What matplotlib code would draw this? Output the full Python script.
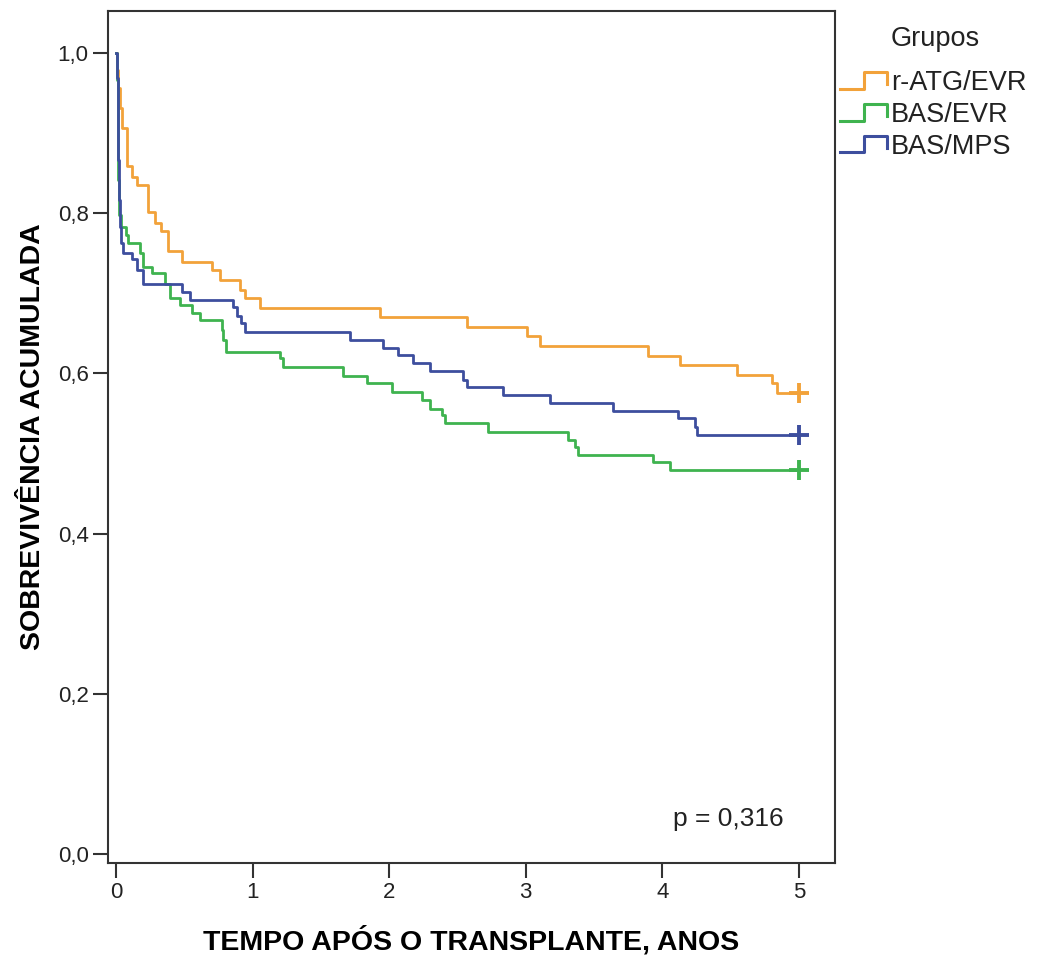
import numpy as np
import matplotlib
matplotlib.use('Agg')
import matplotlib.pyplot as plt
from matplotlib.lines import Line2D
from matplotlib.legend_handler import HandlerBase

plt.rcParams['font.family'] = ['Liberation Sans', 'DejaVu Sans']

# Kaplan-Meier steps (time in years, survival after the event)
ratg_t = [0.007, 0.015, 0.026, 0.040, 0.077, 0.117, 0.154, 0.236, 0.286, 0.329, 0.383, 0.481,
          0.701, 0.761, 0.908, 0.944, 1.054, 1.933, 2.567, 3.007, 3.104, 3.897, 4.129, 4.544,
          4.800, 4.837]
ratg_s = [0.979, 0.956, 0.931, 0.906, 0.859, 0.845, 0.835, 0.801, 0.788, 0.777, 0.752, 0.739,
          0.729, 0.717, 0.704, 0.694, 0.681, 0.670, 0.658, 0.646, 0.634, 0.622, 0.610, 0.598,
          0.588, 0.575]

basevr_t = [0.007, 0.011, 0.015, 0.022, 0.039, 0.075, 0.090, 0.176, 0.200, 0.261, 0.359, 0.395,
            0.469, 0.554, 0.615, 0.774, 0.786, 0.805, 1.201, 1.225, 1.664, 1.835, 2.018, 2.238,
            2.299, 2.384, 2.408, 2.726, 3.311, 3.360, 3.384, 3.933, 4.056]
basevr_s = [0.966, 0.904, 0.841, 0.798, 0.783, 0.772, 0.762, 0.750, 0.733, 0.725, 0.712, 0.694,
            0.685, 0.675, 0.667, 0.654, 0.642, 0.627, 0.619, 0.608, 0.597, 0.588, 0.577, 0.567,
            0.556, 0.548, 0.538, 0.527, 0.517, 0.508, 0.498, 0.489, 0.479]

basmps_t = [0.007, 0.011, 0.015, 0.018, 0.026, 0.037, 0.053, 0.115, 0.152, 0.200, 0.481, 0.542,
            0.859, 0.884, 0.915, 0.944, 1.713, 1.957, 2.067, 2.176, 2.299, 2.542, 2.567, 2.835,
            3.177, 3.641, 4.116, 4.239, 4.251]
basmps_s = [0.969, 0.916, 0.866, 0.816, 0.783, 0.762, 0.750, 0.742, 0.729, 0.712, 0.702, 0.692,
            0.683, 0.671, 0.663, 0.652, 0.642, 0.631, 0.623, 0.613, 0.603, 0.592, 0.583, 0.573,
            0.563, 0.553, 0.544, 0.533, 0.523]

follow_up = 5.0
groups = ['r-ATG/EVR', 'BAS/EVR', 'BAS/MPS']
colors = ['#F2A23A', '#3FB34F', '#3D4E9E']
p_text = 'p = 0,316'

fig = plt.figure(figsize=(10.42, 9.56), dpi=100)
ax = fig.add_axes([108 / 1042, 1 - 863 / 956, (835 - 108) / 1042, (863 - 11) / 956])

series = [(ratg_t, ratg_s), (basevr_t, basevr_s), (basmps_t, basmps_s)]
handles = []
for (t, s), name, c in zip(series, groups, colors):
    tt = [0.0] + t + [follow_up]
    ss = [1.0] + s + [s[-1]]
    ln, = ax.step(tt, ss, where='post', color=c, lw=2.0, label=name)
    ax.plot(follow_up, s[-1], marker='+', ms=15, mew=2.8, color=c)
    handles.append(ln)

ax.set_xlim(-0.059, 5.264)
ax.set_ylim(-0.011, 1.052)
ax.set_xticks([0, 1, 2, 3, 4, 5])
ax.set_xticklabels(['0', '1', '2', '3', '4', '5'])
yt = [0.0, 0.2, 0.4, 0.6, 0.8, 1.0]
ax.set_yticks(yt)
ax.set_yticklabels([f'{v:.1f}'.replace('.', ',') for v in yt])
ax.tick_params(axis='both', labelsize=16, length=11, width=1.5, color='#333333',
               labelcolor='#222222', pad=3)
for sp in ax.spines.values():
    sp.set_color('#333333')
    sp.set_linewidth(1.5)

ax.set_xlabel('TEMPO APÓS O TRANSPLANTE, ANOS', fontsize=20.5, fontweight='bold', labelpad=16)
ax.set_ylabel('SOBREVIVÊNCIA ACUMULADA', fontsize=20.5, fontweight='bold', labelpad=8)
ax.text(0.853, 0.052, p_text, transform=ax.transAxes, ha='center', va='center',
        fontsize=19, color='#222222')


class StepHandler(HandlerBase):
    def create_artists(self, legend, orig_handle, xdescent, ydescent, width, height,
                       fontsize, trans):
        x0 = -xdescent
        lo = -ydescent + 0.0 * height
        hi = -ydescent + 1.0 * height
        xs = [x0, x0 + 0.5 * width, x0 + 0.5 * width, x0 + width, x0 + width]
        ys = [lo, lo, hi, hi, lo + 0.3 * (hi - lo)]
        line = Line2D(xs, ys, color=orig_handle.get_color(), lw=2.2, transform=trans)
        return [line]


fig.text(935 / 1042, 1 - 39 / 956, 'Grupos', ha='center', va='center',
         fontsize=19.5, color='#222222')
leg = fig.legend(handles=handles, labels=groups,
                 loc='upper left', bbox_to_anchor=(840 / 1042, 1 - 70 / 956),
                 frameon=False, fontsize=19.5,
                 handlelength=1.75, handleheight=0.55, handletextpad=0.12,
                 labelspacing=0.22, borderpad=0.0, borderaxespad=0.0,
                 handler_map={Line2D: StepHandler()})
for txt in leg.get_texts():
    txt.set_color('#222222')

fig.savefig('out.png', dpi=100, facecolor='white')
